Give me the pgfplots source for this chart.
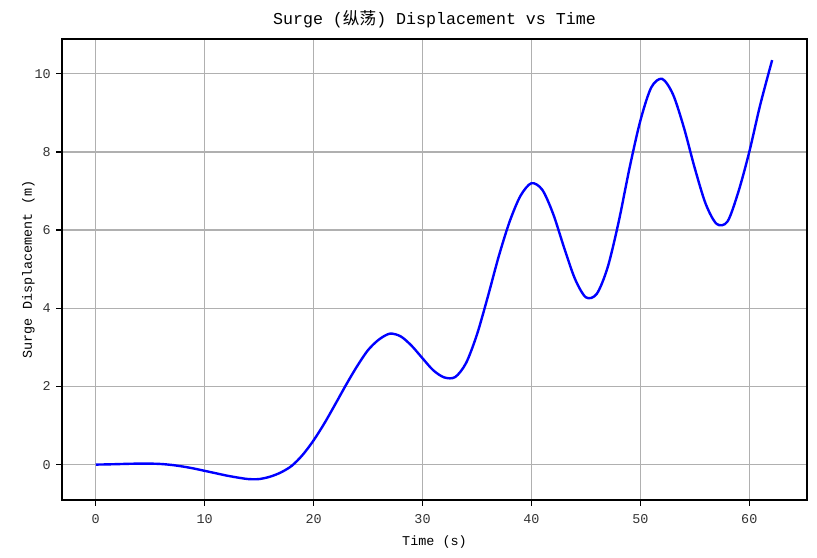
\documentclass[border=0pt]{standalone}
\usepackage{fontspec}
\setmainfont{Liberation Mono}
\newfontfamily\cjk{Noto Sans CJK SC}
\usepackage{pgfplots}
\pgfplotsset{compat=1.18}
\definecolor{gridgray}{HTML}{B0B0B0}
\begin{document}
\begin{tikzpicture}
\useasboundingbox (-62bp,-58bp) rectangle (755bp,500bp);
\begin{axis}[
  scale only axis,
  width=745bp, height=461bp,
  xmin=-3.1, xmax=65.3,
  ymin=-0.906, ymax=10.89,
  xtick={0,10,20,30,40,50,60},
  ytick={0,2,4,6,8,10},
  /pgf/number format/assume math mode=true,
  tick align=outside,
  xtick pos=bottom,
  ytick pos=left,
  major tick length=5.7bp,
  every tick/.style={black, line width=1.3bp},
  axis line style={black, line width=1.3bp},
  grid=major,
  major grid style={gridgray, line width=1.3bp},
  tick label style={font=\fontsize{13.5}{16}\selectfont, text=black!80},
  xticklabel style={anchor=base, yshift=-18bp},
  yticklabel style={anchor=east, xshift=-2bp},
  label style={font=\fontsize{13.5}{16}\selectfont},
  xlabel={Time (s)},
  ylabel={Surge Displacement (m)},
  xlabel style={at={(axis description cs:0.5,0)}, anchor=base, yshift=-45bp},
  ylabel style={at={(axis description cs:-0.0403,0.5)}, anchor=base},
  title={Surge ({\cjk 纵荡}) Displacement vs Time},
  title style={font=\fontsize{16.7}{20}\selectfont, at={(axis description cs:0.5,1)}, anchor=base, yshift=9bp},
]
\addplot[blue, line width=2.4bp, smooth, tension=0.5] coordinates {
(0,0) (1,0.005) (2,0.012) (3,0.02) (4,0.025) (5,0.025) (6,0.015) (7,-0.01) (8,-0.05) (9,-0.1) (10,-0.16) (11,-0.22) (12,-0.28) (13,-0.33) (14,-0.37) (15,-0.37) (16,-0.31) (17,-0.2) (18,-0.03) (19,0.25) (20,0.62) (21,1.06) (22,1.55) (23,2.05) (24,2.52) (25,2.93) (26,3.2) (27,3.35) (28,3.28) (29,3.04) (30,2.72) (31,2.41) (32,2.23) (33,2.24) (34,2.6) (35,3.33) (36,4.3) (37,5.33) (38,6.22) (39,6.88) (40,7.2) (41,7.03) (42,6.41) (43,5.55) (44,4.75) (45,4.28) (46,4.37) (47,5.05) (48,6.2) (49,7.58) (50,8.8) (51,9.65) (52,9.87) (53,9.47) (54,8.62) (55,7.58) (56,6.67) (57,6.16) (58,6.22) (59,6.98) (60,8.0) (61,9.2) (62.1,10.35)
};
\end{axis}
\end{tikzpicture}
\end{document}
